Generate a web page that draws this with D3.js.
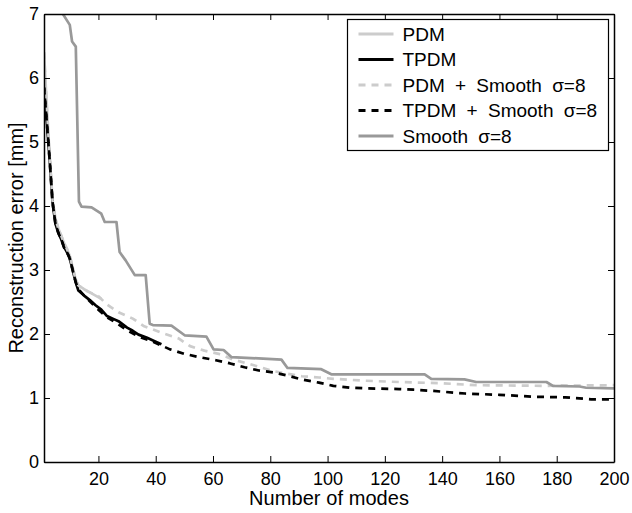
<!DOCTYPE html>
<html>
<head>
<meta charset="utf-8">
<script src="https://cdn.jsdelivr.net/npm/d3@7"></script>
<style>
  body { margin: 0; background: #fff; }
  svg text { font-family: "Liberation Sans", Arial, Helvetica, sans-serif; fill: #000; }
</style>
</head>
<body>
<script>
//chart data
var seriesNames = ["PDM", "TPDM", "PDM + Smooth \u03c3=8", "TPDM + Smooth \u03c3=8", "Smooth \u03c3=8"];

var modesPDM = [1, 2, 3, 4, 5, 6, 7, 8, 9, 10, 11, 12, 13, 15, 17, 19, 21];
var errPDM = [6.4, 5.55, 4.75, 4.08, 3.8, 3.65, 3.54, 3.42, 3.33, 3.22, 3.04, 2.86, 2.76, 2.7, 2.65, 2.6, 2.55];

var modesTPDM = [1, 2, 3, 4, 5, 6, 7, 8, 9, 10, 11, 12, 13, 15, 17, 19, 21, 23, 25, 27, 30, 32, 34, 37, 40, 42];
var errTPDM = [5.85, 5.3, 4.7, 4.05, 3.72, 3.58, 3.48, 3.36, 3.28, 3.18, 3.0, 2.82, 2.68, 2.6, 2.53, 2.45, 2.38, 2.28, 2.24, 2.2, 2.1, 2.05, 1.99, 1.94, 1.88, 1.84];

var modesPDMS = [1, 2, 3, 4, 5, 6, 7, 8, 9, 10, 11, 12, 13, 16, 20, 23, 27, 32, 36, 42, 48, 52, 57, 62, 67, 72, 76, 81, 86, 91, 97, 102, 113, 125, 140, 152, 175, 200];
var errPDMS = [6.4, 5.55, 4.75, 4.08, 3.8, 3.65, 3.54, 3.42, 3.33, 3.22, 3.04, 2.86, 2.76, 2.67, 2.59, 2.46, 2.34, 2.24, 2.12, 2.02, 1.93, 1.81, 1.74, 1.69, 1.6, 1.54, 1.49, 1.42, 1.38, 1.34, 1.32, 1.3, 1.27, 1.25, 1.23, 1.2, 1.19, 1.2];

var modesTPDMS = [1, 2, 3, 4, 5, 6, 7, 8, 9, 10, 11, 12, 13, 15, 17, 20, 23, 26, 30, 34, 39, 42, 45, 50, 55, 61, 66, 71, 76, 81, 86, 91, 97, 102, 108, 114, 125, 130, 137, 148, 160, 172, 183, 192, 200];
var errTPDMS = [5.85, 5.3, 4.7, 4.05, 3.72, 3.58, 3.48, 3.35, 3.28, 3.18, 3.0, 2.82, 2.7, 2.6, 2.51, 2.38, 2.26, 2.18, 2.06, 1.96, 1.88, 1.82, 1.76, 1.69, 1.64, 1.59, 1.54, 1.48, 1.43, 1.4, 1.35, 1.29, 1.24, 1.19, 1.16, 1.15, 1.14, 1.13, 1.11, 1.07, 1.05, 1.02, 1.01, 0.98, 0.98];

var modesSmooth = [7.6, 10, 10.8, 12.1, 13.2, 14.1, 17.6, 21, 22.2, 26.3, 27.4, 29.5, 32.7, 36.5, 37.9, 39, 45.5, 50.1, 57.7, 60.2, 63.7, 66.4, 83.9, 86, 97.8, 101.3, 133.9, 136.2, 147.8, 151.9, 176.4, 178.7, 188, 190.3, 200];
var errSmooth = [7.0, 6.83, 6.57, 6.49, 4.07, 3.99, 3.98, 3.88, 3.75, 3.75, 3.28, 3.15, 2.92, 2.92, 2.16, 2.14, 2.13, 1.98, 1.96, 1.76, 1.75, 1.64, 1.6, 1.47, 1.45, 1.37, 1.37, 1.3, 1.29, 1.25, 1.25, 1.19, 1.18, 1.16, 1.15];

var xTicks = [20, 40, 60, 80, 100, 120, 140, 160, 180, 200];
var yTicks = [0, 1, 2, 3, 4, 5, 6, 7];

(function (){

    //frame and plot box
    var width = 632,
        height = 513;
    var margin = {left: 44, right: 18, top: 14, bottom: 51};
    var plotW = width - margin.left - margin.right,
        plotH = height - margin.top - margin.bottom;

    //line styles, in legend order
    var styles = [
        {color: "#cccccc", dash: null},
        {color: "#000000", dash: null},
        {color: "#cccccc", dash: "7,6"},
        {color: "#000000", dash: "7,6"},
        {color: "#999999", dash: null}
    ];

    var series = [
        d3.zip(modesPDM, errPDM),
        d3.zip(modesTPDM, errTPDM),
        d3.zip(modesPDMS, errPDMS),
        d3.zip(modesTPDMS, errTPDMS),
        d3.zip(modesSmooth, errSmooth)
    ];

    var svg = d3.select("body")
        .append("svg")
        .attr("width", width)
        .attr("height", height);

    var g = svg.append("g")
        .attr("transform", "translate(" + margin.left + "," + margin.top + ")");

    var x = d3.scaleLinear().domain([1, 200]).range([0, plotW]);
    var y = d3.scaleLinear().domain([0, 7]).range([plotH, 0]);

    //clip curves to the plot box
    g.append("clipPath")
        .attr("id", "plotClip")
        .append("rect")
        .attr("width", plotW)
        .attr("height", plotH);

    var line = d3.line()
        .x(function(d){ return x(d[0]); })
        .y(function(d){ return y(d[1]); });

    g.append("g")
        .attr("clip-path", "url(#plotClip)")
        .selectAll(".curve")
        .data(series)
        .enter()
        .append("path")
        .attr("class", "curve")
        .attr("d", line)
        .attr("fill", "none")
        .attr("stroke", function(d, i){ return styles[i].color; })
        .attr("stroke-width", 2.7)
        .attr("stroke-linejoin", "round")
        .attr("stroke-dasharray", function(d, i){ return styles[i].dash; });

    //axes with inward ticks, matlab style box
    var fontSize = "18px";
    var bottomAxis = g.append("g")
        .attr("transform", "translate(0," + plotH + ")")
        .call(d3.axisBottom(x).tickValues(xTicks).tickSizeInner(-6).tickSizeOuter(0).tickPadding(10).tickFormat(d3.format("d")));
    var leftAxis = g.append("g")
        .call(d3.axisLeft(y).tickValues(yTicks).tickSizeInner(-6).tickSizeOuter(0).tickPadding(5).tickFormat(d3.format("d")));
    var topAxis = g.append("g")
        .call(d3.axisTop(x).tickValues(xTicks).tickSizeInner(-6).tickSizeOuter(0).tickFormat(""));
    var rightAxis = g.append("g")
        .attr("transform", "translate(" + plotW + ",0)")
        .call(d3.axisRight(y).tickValues(yTicks).tickSizeInner(-6).tickSizeOuter(0).tickFormat(""));

    [bottomAxis, leftAxis, topAxis, rightAxis].forEach(function(a){
        a.select(".domain").attr("stroke", "#000").attr("stroke-width", 1.5);
        a.selectAll(".tick line").attr("stroke", "#000").attr("stroke-width", 1);
        a.selectAll("text")
            .style("font-size", fontSize)
            .style("font-family", "\"Liberation Sans\", Arial, sans-serif");
    });

    //axis titles
    g.append("text")
        .attr("x", plotW / 2)
        .attr("y", plotH + 43)
        .attr("text-anchor", "middle")
        .attr("textLength", 160)
        .attr("lengthAdjust", "spacing")
        .style("font-size", "20px")
        .text("Number of modes");

    g.append("text")
        .attr("transform", "translate(" + (-21) + "," + (plotH / 2) + ") rotate(-90)")
        .attr("text-anchor", "middle")
        .style("font-size", "20px")
        .text("Reconstruction error [mm]");

    //legend box
    var legend = svg.append("g")
        .attr("transform", "translate(347.5,19.5)");

    legend.append("rect")
        .attr("width", 261)
        .attr("height", 131)
        .attr("fill", "#fff")
        .attr("stroke", "#000")
        .attr("stroke-width", 1.2);

    var rows = legend.selectAll(".legendRow")
        .data(seriesNames)
        .enter()
        .append("g")
        .attr("class", "legendRow")
        .attr("transform", function(d, i){ return "translate(0," + (14.5 + i * 25.5) + ")"; });

    rows.append("line")
        .attr("x1", 11)
        .attr("x2", 46)
        .attr("stroke", function(d, i){ return styles[i].color; })
        .attr("stroke-width", 3)
        .attr("stroke-dasharray", function(d, i){ return styles[i].dash; });

    rows.append("text")
        .attr("x", 55)
        .attr("dy", "0.35em")
        .style("font-size", "19px")
        .style("word-spacing", "5px")
        .text(function(d){ return d; });

})();
</script>
</body>
</html>
